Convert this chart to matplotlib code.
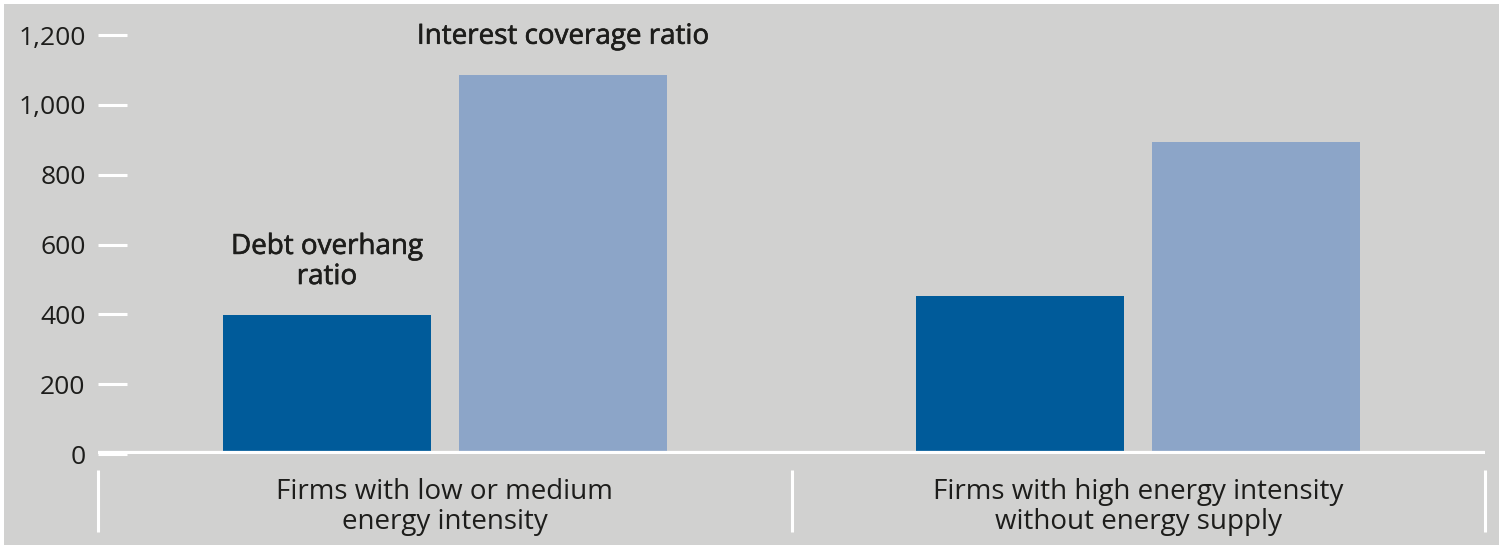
import numpy as np
import matplotlib
matplotlib.use("Agg")
from matplotlib import pyplot as plt
from matplotlib.patches import Rectangle
import matplotlib.patheffects as pe

categories = ["Firms with low or medium\nenergy intensity",
              "Firms with high energy intensity\nwithout energy supply"]
debt_overhang = [398, 452]
interest_coverage = [1085, 893]
yticks = [0, 200, 400, 600, 800, 1000, 1200]
ytick_labels = ["0", "200", "400", "600", "800", "1,000", "1,200"]

bg = '#d1d1d0'
dark = '#005b9a'
light = '#8ca5c8'
txt = '#1d1d1b'

plt.rcParams['font.family'] = ['Open Sans', 'DejaVu Sans']

fig = plt.figure(figsize=(14.99, 5.45), dpi=100, facecolor='white')
fig.patches.append(Rectangle((4/1499, 0), 1, 541/545, transform=fig.transFigure,
                             facecolor=bg, edgecolor='none', zorder=-10))

W, H = 1499, 545
ax = fig.add_axes([98/W, (H-454)/H, (1485-98)/W, (454-35)/H])
ax.set_facecolor(bg)

x = np.arange(len(categories))
bw = 0.30
off = 0.17
ax.bar(x - off, debt_overhang, bw, color=dark, zorder=2)
ax.bar(x + off, interest_coverage, bw, color=light, zorder=2)

ax.set_xlim(-0.5, 1.5)
ax.set_ylim(0, 1200)
ax.set_yticks(yticks)
ax.set_yticklabels(ytick_labels)
ax.set_xticks([])
for s in ax.spines.values():
    s.set_visible(False)
ax.tick_params(axis='y', direction='in', length=21, width=2.2, color='white',
               pad=9, labelsize=19, labelcolor=txt)

# zero line
ax.axhline(0, color='white', lw=4.5, zorder=3, solid_capstyle='butt')

# category separators and labels
tr = ax.get_xaxis_transform()
for xs in [-0.5, 0.5, 1.5]:
    ax.plot([xs, xs], [-0.038, -0.186], color='white', lw=2.2, transform=tr,
            clip_on=False, solid_capstyle='butt')
for i, c in enumerate(categories):
    ax.text(x[i], -0.126, c, transform=tr, ha='center', va='center',
            fontsize=20, color=txt, linespacing=1.08)

# series annotations (medium look: regular + thin stroke)
medium = [pe.withStroke(linewidth=0.45, foreground=txt)]
ax.text(x[0] + off, 1195, "Interest coverage ratio", ha='center', va='center',
        fontsize=20, color=txt, clip_on=False, path_effects=medium)
ax.text(x[0] - off, 550, "Debt overhang\nratio", ha='center', va='center',
        fontsize=20, color=txt, linespacing=1.1, path_effects=medium)

fig.savefig('out.png', dpi=100, facecolor=fig.get_facecolor())
